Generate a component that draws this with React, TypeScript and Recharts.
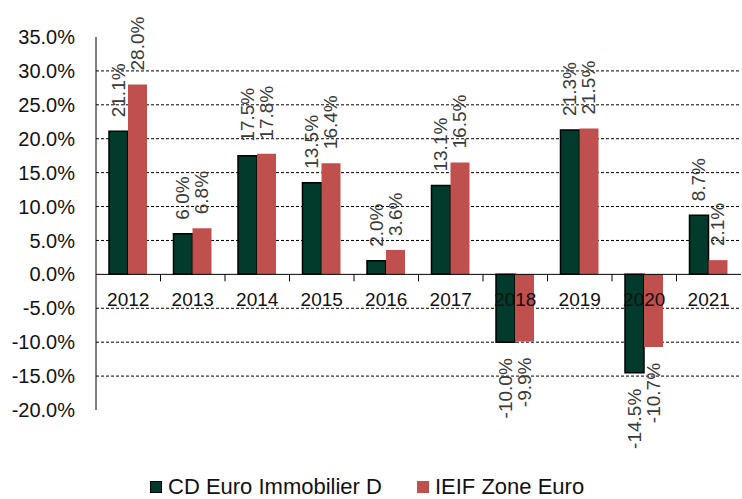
import {
  Bar,
  ComposedChart,
  LabelList,
  Legend,
  Line,
  ReferenceLine,
  XAxis,
  YAxis,
} from "recharts";

const years = ["2012", "2013", "2014", "2015", "2016", "2017", "2018", "2019", "2020", "2021"];
const cdEuro = [21.1, 6.0, 17.5, 13.5, 2.0, 13.1, -10.0, 21.3, -14.5, 8.7];
const ieifZone = [28.0, 6.8, 17.8, 16.4, 3.6, 16.5, -9.9, 21.5, -10.7, 2.1];
const yTicks = [-20, -15, -10, -5, 0, 5, 10, 15, 20, 25, 30, 35];
const gridValues = [-15, -10, -5, 5, 10, 15, 20, 25, 30];

const seriesNames = ["CD Euro Immobilier D", "IEIF Zone Euro"];

const data = years.map((year, i) => ({ year, cd: cdEuro[i], ieif: ieifZone[i] }));

const W = 742;
const H = 499;
const AXIS_W = 96;
const RIGHT = 1;
const BAND = (W - AXIS_W - RIGHT) / years.length;
const FONT = "'Liberation Sans', Arial, sans-serif";
const GREEN = "#023b2b";
const RED = "#c0504d";

const pct = (v: number) => `${v.toFixed(1)}%`;

function ValueLabel(props: any) {
  const { x, y, width, height, value } = props;
  const cx = x + width / 2;
  const top = Math.min(y, y + height);
  const bottom = Math.max(y, y + height);
  const pos = value >= 0;
  const ty = pos ? top - 14 : bottom + 16;
  return (
    <text
      x={cx}
      y={ty}
      transform={`rotate(-90 ${cx} ${ty})`}
      textAnchor={pos ? "start" : "end"}
      dominantBaseline="central"
      fontSize={19}
      fill="#3a3a3a"
      fontFamily={FONT}
    >
      {pct(value)}
    </text>
  );
}

function YearLabel(props: any) {
  const { x, y, value } = props;
  return (
    <text
      x={x}
      y={y + 25}
      textAnchor="middle"
      dominantBaseline="central"
      fontSize={19}
      fill="#111"
      fontFamily={FONT}
    >
      {value}
    </text>
  );
}

function CategoryTick(props: any) {
  const { cx, cy, index } = props;
  if (index === 0) return <g key={`t${index}`} />;
  const tx = cx - BAND / 2;
  return <line key={`t${index}`} x1={tx} x2={tx} y1={cy} y2={cy + 7} stroke="#000" strokeWidth={1} />;
}

function LegendBox() {
  const item = (color: string, border: boolean, label: string, ml: number) => (
    <div style={{ display: "flex", alignItems: "center", marginLeft: ml }}>
      <span
        style={{
          display: "inline-block",
          width: 10,
          height: 10,
          background: color,
          border: border ? "1px solid #000" : "1px solid transparent",
          marginRight: 6,
        }}
      />
      <span style={{ fontSize: 22, color: "#111", lineHeight: "24px" }}>{label}</span>
    </div>
  );
  return (
    <div
      style={{
        height: 89,
        display: "flex",
        alignItems: "flex-end",
        paddingLeft: 150,
        fontFamily: FONT,
        boxSizing: "border-box",
      }}
    >
      {item(GREEN, true, seriesNames[0], 0)}
      {item(RED, false, seriesNames[1], 35)}
    </div>
  );
}

export default function App() {
  return (
    <div style={{ position: "absolute", left: 0, top: 0, width: W, height: H, background: "#fff" }}>
      <ComposedChart
        width={W}
        height={H}
        data={data}
        margin={{ top: 37, right: RIGHT, left: 0, bottom: 0 }}
        barGap={0}
        style={{ fontFamily: FONT }}
      >
        <XAxis dataKey="year" hide />
        <YAxis
          domain={[-20, 35]}
          ticks={yTicks}
          width={AXIS_W}
          tickFormatter={pct}
          tickLine={false}
          tickSize={0}
          tickMargin={21}
          axisLine={{ stroke: "#000", strokeWidth: 1 }}
          tick={{ fontSize: 20, fill: "#111", fontFamily: FONT }}
          interval={0}
        />
        {gridValues.map((v) => (
          <ReferenceLine key={v} y={v} stroke="#000" strokeDasharray="3 2" strokeWidth={1} zIndex={-50} />
        ))}
        <Line
          dataKey={() => 0}
          stroke="none"
          dot={CategoryTick}
          activeDot={false}
          legendType="none"
          isAnimationActive={false}
          zIndex={-10}
        >
          <LabelList dataKey="year" content={YearLabel} />
        </Line>
        <Bar dataKey="cd" name={seriesNames[0]} fill={GREEN} stroke="#000" strokeWidth={1.5} barSize={19} isAnimationActive={false}>
          <LabelList dataKey="cd" content={ValueLabel} />
        </Bar>
        <Bar dataKey="ieif" name={seriesNames[1]} fill={RED} barSize={19} isAnimationActive={false}>
          <LabelList dataKey="ieif" content={ValueLabel} />
        </Bar>
        <ReferenceLine y={0} stroke="#000" strokeWidth={1} />
        <Legend verticalAlign="bottom" content={() => <LegendBox />} wrapperStyle={{ left: 0, width: W }} />
      </ComposedChart>
    </div>
  );
}
